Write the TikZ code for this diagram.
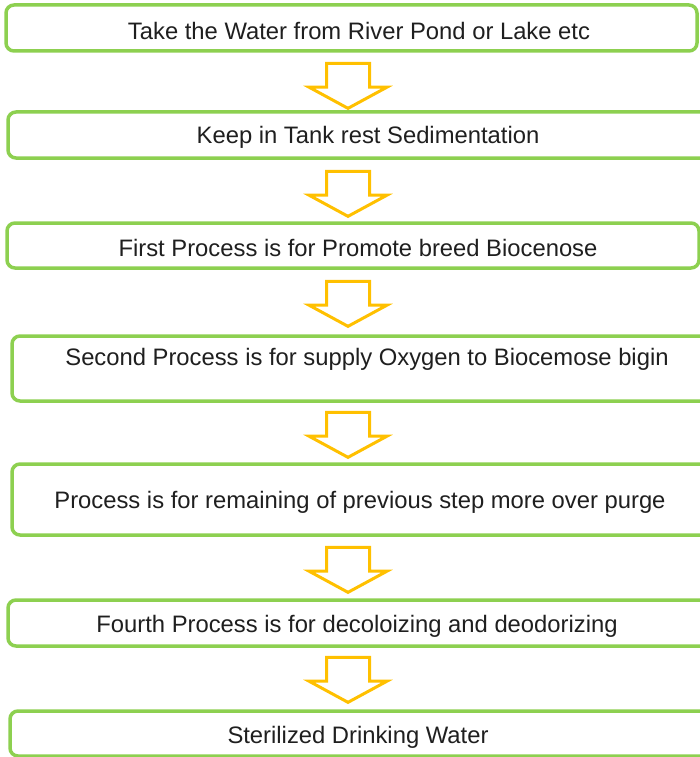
\documentclass[tikz,border=0pt]{standalone}
\usepackage{fontspec}
\setmainfont{Liberation Sans}
\usetikzlibrary{shapes.arrows}
\definecolor{boxgreen}{RGB}{141,208,80}
\definecolor{arrowgold}{RGB}{255,192,0}
\begin{document}
\begin{tikzpicture}[x=1pt,y=-1pt,
	box/.style={rectangle,rounded corners=8pt,draw=boxgreen,line width=3.5pt,fill=white,inner sep=0pt},
	steptext/.style={anchor=base,inner sep=0pt,font=\fontsize{23.8}{28}\selectfont,text=black!88},
	downarrow/.style={single arrow,draw=arrowgold,line width=3pt,fill=white,shape border rotate=270,
		inner xsep=20pt,inner ysep=1pt,minimum height=45pt,single arrow head extend=17.5pt,single arrow tip angle=123}]
	\useasboundingbox (0,0) rectangle (700,757);
	% boxes
	\node (source) at (351.5,28) [box,minimum width=691pt,minimum height=46pt] {};
	\node (tank) at (364,135) [box,minimum width=712pt,minimum height=46pt] {};
	\node (first) at (353,245.5) [box,minimum width=692pt,minimum height=45pt] {};
	\node (second) at (367,368.5) [box,minimum width=710pt,minimum height=65pt] {};
	\node (third) at (366,499.5) [box,minimum width=708pt,minimum height=71pt] {};
	\node (fourth) at (364,623) [box,minimum width=712pt,minimum height=46pt] {};
	\node (drink) at (365,733.5) [box,minimum width=710pt,minimum height=45pt] {};
	% texts
	\node (sourcetxt) at (359,39.5) [steptext] {Take the Water from River Pond or Lake etc};
	\node (tanktxt) at (368,143.5) [steptext] {Keep in Tank rest Sedimentation};
	\node (firsttxt) at (358,256.5) [steptext] {First Process is for Promote breed Biocenose};
	\node (secondtxt) at (367,365.5) [steptext] {Second Process is for supply Oxygen to Biocemose bigin};
	\node (thirdtxt) at (360,508.5) [steptext] {Process is for remaining of previous step more over purge};
	\node (fourthtxt) at (357,632.5) [steptext] {Fourth Process is for decoloizing and deodorizing};
	\node (drinktxt) at (358,743) [steptext] {Sterilized Drinking Water};
	% arrows
	\node (arr1) at (348,80) [downarrow] {};
	\node (arr2) at (348,188) [downarrow] {};
	\node (arr3) at (348,298) [downarrow] {};
	\node (arr4) at (348,429) [downarrow] {};
	\node (arr5) at (348,564) [downarrow] {};
	\node (arr6) at (348,674) [downarrow] {};
\end{tikzpicture}
\end{document}
